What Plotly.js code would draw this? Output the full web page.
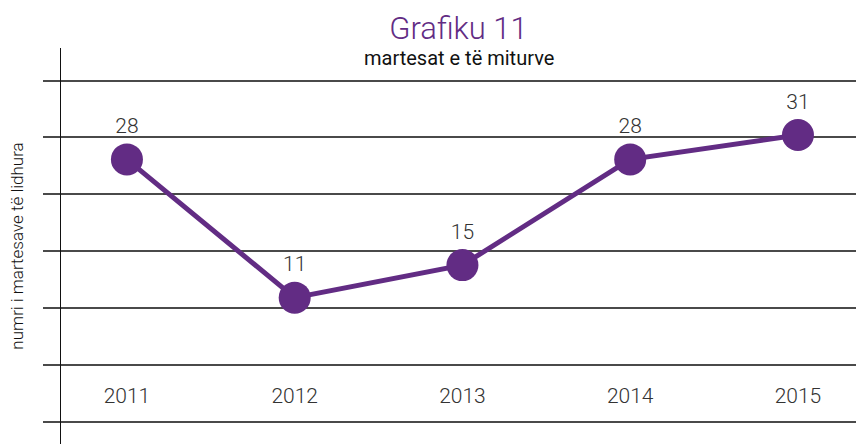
<!DOCTYPE html>
<html>
<head>
<meta charset="utf-8">
<script src="https://cdn.plot.ly/plotly-3.0.1.min.js"></script>
<style>html,body{margin:0;padding:0;background:#fff;}#chart{width:856px;height:444px;}</style>
</head>
<body>
<div id="chart"></div>
<script>
const years = [2011, 2012, 2013, 2014, 2015];
const values = [28, 11, 15, 28, 31];
const tickLabels = ["2011", "2012", "2013", "2014", "2015"];
const purple = "#622c84";
const FONT = "Roboto, Noto Sans, sans-serif";

const trace = {
  x: years,
  y: values,
  type: "scatter",
  mode: "lines+markers+text",
  line: {color: purple, width: 5},
  marker: {color: purple, size: 32},
  text: values.map(String),
  textposition: "top center",
  textfont: {family: FONT, size: 21, color: "#333", weight: 300},
  cliponaxis: false,
  hoverinfo: "skip"
};

const layout = {
  width: 856, height: 444,
  margin: {l: 61, r: 0, t: 48, b: 0},
  paper_bgcolor: "#fff", plot_bgcolor: "#fff",
  showlegend: false,
  title: {
    text: "Grafiku 11",
    font: {family: FONT, size: 31, color: purple, weight: 300},
    x: 0.5, xref: "paper", xanchor: "center",
    y: 0.937, yref: "container", yanchor: "middle"
  },
  annotations: [{
    text: "martesat e të miturve",
    xref: "paper", yref: "paper",
    x: 0.5, y: 0.975, xanchor: "center", yanchor: "middle",
    showarrow: false,
    font: {family: FONT, size: 20, color: "#111", weight: 400}
  }],
  xaxis: {
    range: [2010.607, 2015.346],
    tickvals: years, ticktext: tickLabels,
    anchor: "free", position: 0.16,
    showline: false, showgrid: false, zeroline: false, ticks: "",
    tickfont: {family: FONT, size: 21, color: "#333", weight: 300}
  },
  yaxis: {
    range: [-7.0, 41.7],
    tick0: 2.7, dtick: 7,
    showticklabels: false,
    showgrid: true, gridcolor: "#4a4a4a", gridwidth: 2,
    ticks: "outside", ticklen: 17, tickcolor: "#4a4a4a", tickwidth: 2,
    showline: true, linecolor: "#111", linewidth: 1.5,
    zeroline: false,
    title: {text: "numri i martesave të lidhura", font: {family: FONT, size: 17, color: "#111", weight: 300}, standoff: 14}
  }
};

Plotly.newPlot("chart", [trace], layout, {displayModeBar: false, staticPlot: true});
</script>
</body>
</html>
